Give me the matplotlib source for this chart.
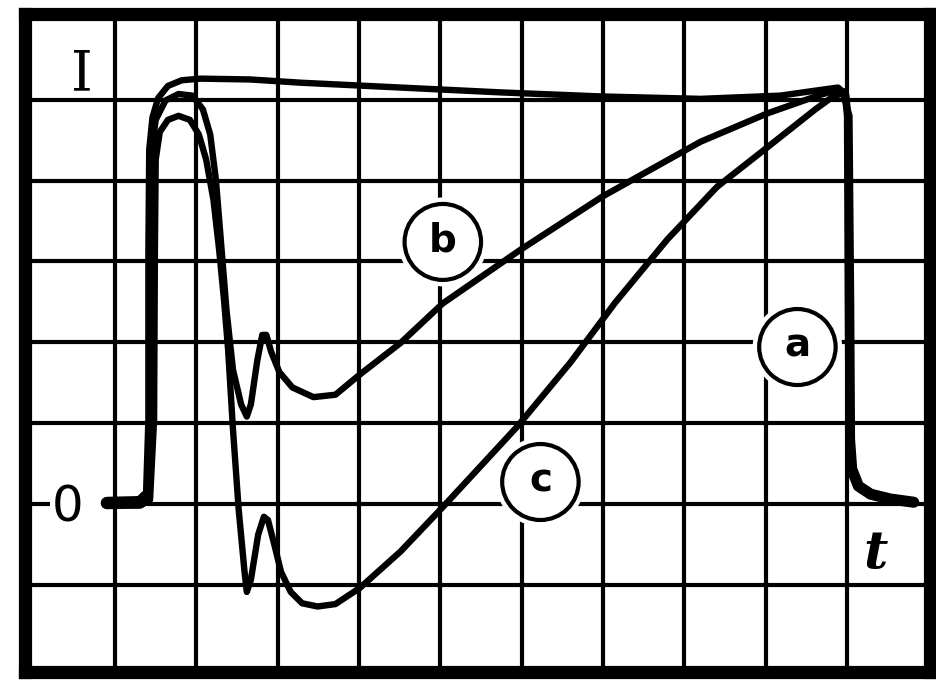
import matplotlib.pyplot as plt
from matplotlib.patches import Circle
import numpy as np

# Oscillogram traces, t and I in grid divisions (zero line at I = 0)
t_a = [0.90, 1.31, 1.38, 1.41, 1.41, 1.42, 1.46, 1.53, 1.65, 1.82, 2.05, 2.66, 3.28, 4.51,
       5.74, 6.97, 8.20, 9.18, 9.67, 9.89, 9.99, 10.02, 10.03, 10.04, 10.07, 10.14, 10.29,
       10.53, 10.82]
i_a = [0.01, 0.02, 0.09, 1.04, 3.14, 4.38, 4.78, 5.02, 5.17, 5.24, 5.26, 5.25, 5.21, 5.15,
       5.09, 5.04, 5.01, 5.05, 5.12, 5.15, 5.06, 4.75, 2.52, 0.79, 0.40, 0.22, 0.12,
       0.06, 0.02]

t_b = [0.90, 1.31, 1.41, 1.44, 1.44, 1.45, 1.50, 1.62, 1.78, 1.95, 2.08, 2.17, 2.24, 2.30,
       2.37, 2.45, 2.55, 2.62, 2.67, 2.75, 2.81, 2.86, 2.92, 3.02, 3.18, 3.44, 3.71, 4.01,
       4.51, 5.03, 5.98, 6.99, 8.20, 9.02, 9.67, 9.89, 9.97, 10.00, 10.01, 10.02, 10.05,
       10.12, 10.27, 10.50, 10.80]
i_b = [-0.01, -0.01, 0.06, 1.04, 3.14, 4.38, 4.75, 4.99, 5.07, 5.05, 4.88, 4.57, 4.01, 3.27,
       2.40, 1.66, 1.23, 1.08, 1.23, 1.78, 2.09, 2.09, 1.88, 1.63, 1.44, 1.32, 1.35, 1.60,
       1.99, 2.48, 3.14, 3.80, 4.48, 4.83, 5.06, 5.12, 5.10, 4.80, 2.50, 0.80, 0.40,
       0.22, 0.13, 0.07, 0.04]

t_c = [0.90, 1.31, 1.43, 1.48, 1.49, 1.50, 1.55, 1.65, 1.78, 1.92, 2.03, 2.12, 2.21, 2.28,
       2.34, 2.39, 2.45, 2.52, 2.59, 2.62, 2.67, 2.76, 2.83, 2.88, 2.96, 3.04, 3.16, 3.30,
       3.49, 3.71, 4.01, 4.51, 5.03, 5.94, 6.60, 7.15, 7.79, 8.40, 9.02, 9.61, 9.83, 9.95,
       10.03, 10.05, 10.06, 10.09, 10.16, 10.31, 10.55, 10.83]
i_c = [-0.02, -0.02, 0.05, 1.04, 3.14, 4.26, 4.60, 4.75, 4.80, 4.75, 4.57, 4.26, 3.76, 3.14,
       2.52, 1.91, 0.92, -0.07, -0.82, -1.09, -0.94, -0.38, -0.16, -0.20, -0.51, -0.84, -1.09,
       -1.23, -1.27, -1.24, -1.04, -0.59, -0.04, 0.95, 1.75, 2.49, 3.27, 3.92, 4.41, 4.88,
       5.04, 5.08, 4.80, 2.50, 0.80, 0.38, 0.19, 0.09, 0.03, 0.00]

# curve labels: letter, centre (t, I)
labels = ["a", "b", "c"]
label_t = [9.39, 5.03, 6.23]
label_i = [1.94, 3.24, 0.27]

fig = plt.figure(figsize=(9.37, 6.82), dpi=100)
ax = fig.add_axes([0.0267, 0.0147, 0.9658, 0.9648])
ax.set_xlim(-0.107, 11.02)
ax.set_ylim(-2.08, 6.06)
ax.set_xticks([])
ax.set_yticks([])
for s in ax.spines.values():
    s.set_linewidth(9.5)
    s.set_color("black")

# grid
grid_lw = 3.0
ax.vlines(np.arange(1, 11), -2.08, 6.06, color="black", lw=grid_lw, zorder=1)
for y in range(-1, 6):
    if y == 0:
        ax.hlines(0, 0.85, 11.02, color="black", lw=grid_lw, zorder=1)
        ax.hlines(0, -0.107, 0.2, color="black", lw=grid_lw, zorder=1)
    else:
        ax.hlines(y, -0.107, 11.02, color="black", lw=grid_lw, zorder=1)

# traces
kw = dict(color="black", lw=4.6, solid_capstyle="round", solid_joinstyle="round", zorder=4)
ax.plot(t_a, i_a, **kw)
ax.plot(t_b, i_b, **kw)
ax.plot(t_c, i_c, **kw)
# heavier baseline and tail where the traces overlap
ax.plot(t_a[:3], i_a[:3], color="black", lw=9, solid_capstyle="round", zorder=4)
ax.plot(t_a[-5:], i_a[-5:], color="black", lw=8, solid_capstyle="round", zorder=4)

# circled curve letters
for lab, x, y in zip(labels, label_t, label_i):
    ax.add_patch(Circle((x, y), 0.55, facecolor="white", edgecolor="none", zorder=2))
    ax.add_patch(Circle((x, y), 0.47, facecolor="white", edgecolor="black", lw=3.0, zorder=3))
    ax.text(x, y + 0.02, lab, ha="center", va="center", fontsize=28, fontweight="bold",
            family="DejaVu Sans", zorder=5)

# axis letters
ax.text(0.59, 5.31, "I", ha="center", va="center", fontsize=40, family="DejaVu Serif", zorder=5)
ax.text(0.42, -0.04, "0", ha="center", va="center", fontsize=36, family="DejaVu Sans", zorder=5)
ax.text(10.35, -0.61, "t", ha="center", va="center", fontsize=38, family="DejaVu Serif",
        style="italic", fontweight="bold", zorder=5)

fig.savefig("out.png", dpi=100)
